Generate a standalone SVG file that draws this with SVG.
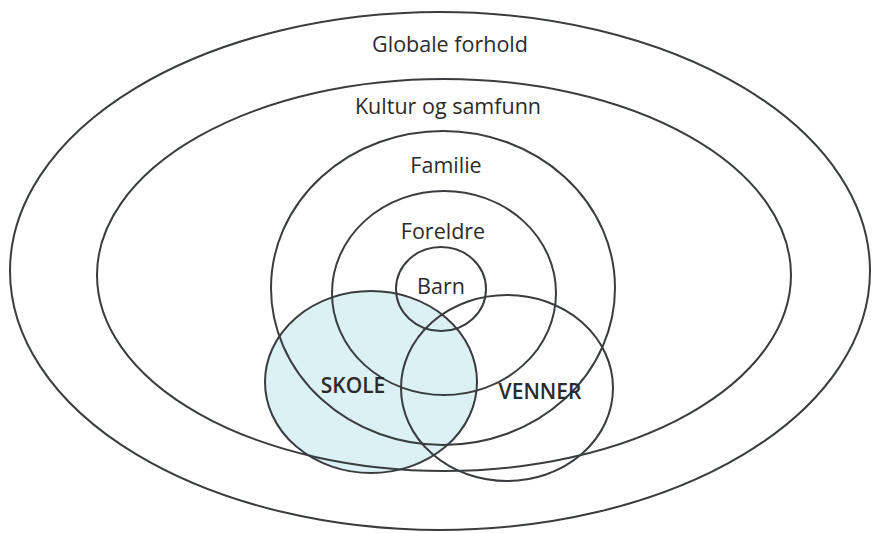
<svg xmlns="http://www.w3.org/2000/svg" width="872" height="533" viewBox="0 0 872 533">
<style>
.o{fill:none;stroke:#3a3d3f;stroke-width:2}
.t{font-family:"Open Sans","Noto Sans","DejaVu Sans",sans-serif;fill:#2b2b2b;text-anchor:middle}
.s{font-size:21.5px}
.b{font-size:21px;font-weight:600}
</style>
<rect width="872" height="533" fill="#ffffff"/>
<ellipse cx="371" cy="382" rx="106" ry="91" fill="#dcf1f4"/>
<g id="globale"><ellipse class="o" cx="440" cy="271" rx="430" ry="259"/><text class="t s" x="450" y="52">Globale forhold</text></g>
<g id="kultur"><ellipse class="o" cx="444" cy="275" rx="347" ry="196"/><text class="t s" x="448" y="114">Kultur og samfunn</text></g>
<g id="familie"><ellipse class="o" cx="443" cy="288" rx="172" ry="157"/><text class="t s" x="446" y="173">Familie</text></g>
<g id="foreldre"><ellipse class="o" cx="444" cy="293" rx="112" ry="102"/><text class="t s" x="443" y="239">Foreldre</text></g>
<g id="barn"><ellipse class="o" cx="441" cy="289" rx="45" ry="42"/><text class="t s" x="441" y="294">Barn</text></g>
<g id="skole"><ellipse class="o" cx="371" cy="382" rx="106" ry="91"/><text class="t b" x="353" y="393">SKOLE</text></g>
<g id="venner"><ellipse class="o" cx="507" cy="388" rx="106" ry="93"/><text class="t b" x="540" y="399">VENNER</text></g>
<g id="connectors"/>
</svg>
